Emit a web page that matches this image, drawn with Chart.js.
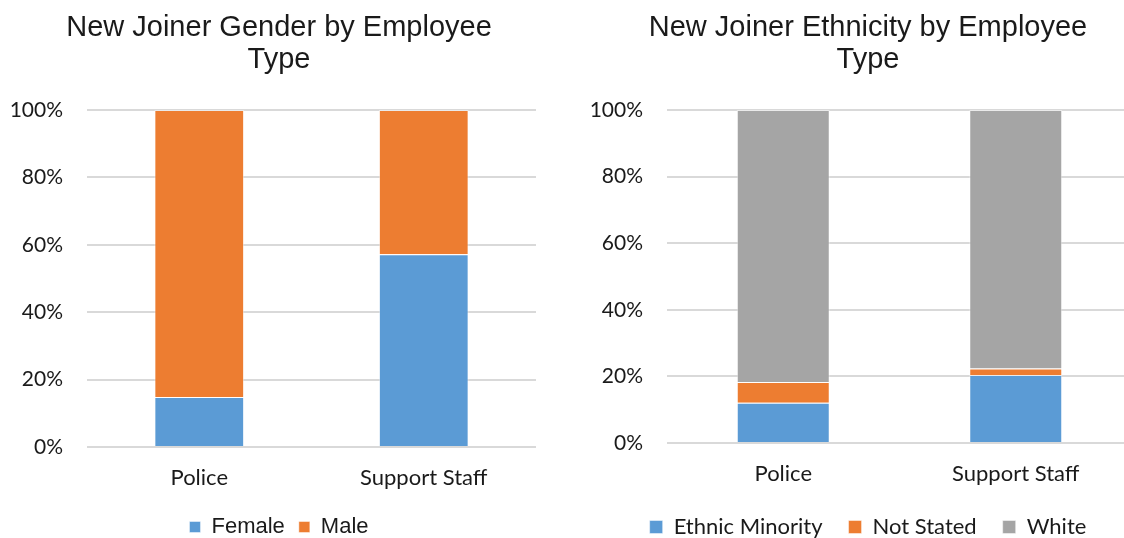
<!DOCTYPE html>
<html>
<head>
<meta charset="utf-8">
<title>New Joiners by Employee Type</title>
<script src="https://cdn.jsdelivr.net/npm/chart.js@4/dist/chart.umd.min.js"></script>
<style>
    html, body { margin: 0; padding: 0; background: #fff; overflow: hidden; width: 1124px; height: 538px; }
    #genderChart { position: absolute; left: 0; top: 0; }
    #ethnicityChart { position: absolute; left: 580px; top: 0; }
</style>
</head>
<body>
<canvas id="genderChart" width="558" height="538"></canvas>
<canvas id="ethnicityChart" width="576" height="538"></canvas>
<script>
// Categories and percentages
const employeeTypes = ['Police', 'Support Staff'];
const femalePct = [14.8, 57.2];
const malePct = [85.2, 42.8];
const ethnicMinorityPct = [12.1, 20.4];
const notStatedPct = [6.2, 2.0];
const whitePct = [81.7, 77.6];
const percentTicks = [0, 20, 40, 60, 80, 100];

const BLUE = '#5B9BD5';
const ORANGE = '#ED7D31';
const GREY = '#A5A5A5';

Chart.defaults.font.family = 'Lato';
Chart.defaults.color = '#1a1a1a';
Chart.defaults.animation = false;

function barSet(label, data, color) {
    return {
        label: label,
        data: data,
        backgroundColor: color,
        borderColor: 'rgba(255, 255, 255, 0.45)',
        borderWidth: 1,
        categoryPercentage: 1,
        barPercentage: 0.4,
    };
}

// Shared stacked 100% bar layout; only legend, spacing and margins differ
function stackedChart(id, titleLines, datasets, cfg) {
    const ctx = document.getElementById(id).getContext('2d');
    return new Chart(ctx, {
        type: 'bar',
        data: { labels: employeeTypes, datasets: datasets },
        options: {
            responsive: false,
            devicePixelRatio: 1,
            layout: { padding: { left: 0, right: 0, top: 0, bottom: -10 } },
            plugins: {
                tooltip: { enabled: false },
                title: {
                    display: true,
                    text: titleLines,
                    color: '#1a1a1a',
                    font: { family: 'Liberation Sans', size: 29, weight: 'normal', lineHeight: 32 / 29 },
                    padding: { top: 12, bottom: 34 },
                },
                legend: {
                    display: true,
                    position: 'bottom',
                    labels: {
                        color: '#1a1a1a',
                        font: cfg.legendFont,
                        boxWidth: cfg.box,
                        boxHeight: cfg.box,
                        padding: cfg.legendGap,
                    },
                },
            },
            scales: {
                x: {
                    stacked: true,
                    grid: { display: false },
                    border: { display: false },
                    ticks: { padding: cfg.xPad, font: { size: 22 } },
                    afterFit: function (scale) { scale.height = cfg.xHeight; },
                },
                y: {
                    stacked: true,
                    min: 0,
                    max: 100,
                    grid: { color: '#D9D9D9', lineWidth: 2, drawTicks: false },
                    border: { display: false },
                    afterBuildTicks: function (scale) {
                        scale.ticks = percentTicks.map(v => ({ value: v }));
                    },
                    ticks: {
                        padding: 24,
                        font: { size: 21 },
                        callback: v => v + '%',
                    },
                    afterFit: function (scale) { scale.width = 87; },
                },
                // empty right-hand margin so the title and legend centre on the whole panel
                margin: {
                    position: 'right',
                    grid: { display: false },
                    border: { display: false },
                    ticks: { display: false },
                    afterFit: function (scale) { scale.width = cfg.rightMargin; },
                },
            },
        },
    });
}

// Gender split
stackedChart('genderChart', ['New Joiner Gender by Employee', 'Type'], [
    barSet('Female', femalePct, BLUE),
    barSet('Male', malePct, ORANGE),
], {
    legendFont: { family: 'Liberation Sans', size: 22 },
    box: 11, legendGap: 14,
    xHeight: 55, xPad: 10, rightMargin: 22,
});

// Ethnicity split
stackedChart('ethnicityChart', ['New Joiner Ethnicity by Employee', 'Type'], [
    barSet('Ethnic Minority', ethnicMinorityPct, BLUE),
    barSet('Not Stated', notStatedPct, ORANGE),
    barSet('White', whitePct, GREY),
], {
    legendFont: { family: 'Lato', size: 22 },
    box: 13, legendGap: 26,
    xHeight: 47, xPad: 10, rightMargin: 24,
});
</script>
</body>
</html>
